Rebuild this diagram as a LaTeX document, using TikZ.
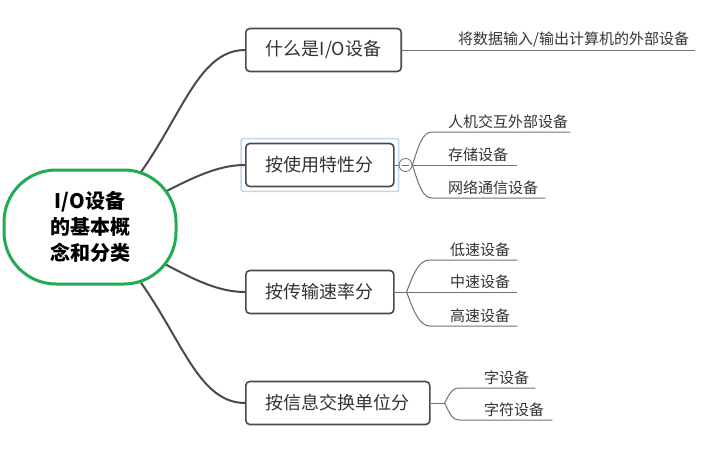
\documentclass[tikz,border=0pt]{standalone}
\usepackage{fontspec}
\setmainfont{Noto Sans CJK SC}
\usetikzlibrary{positioning,fit,backgrounds}
\definecolor{rootgreen}{HTML}{22AA55}
\definecolor{linecol}{HTML}{4A4A4A}
\definecolor{twigcol}{HTML}{707070}
\definecolor{txtcol}{HTML}{333333}
\definecolor{selcol}{HTML}{C2D6EE}

\begin{document}
\begin{tikzpicture}[
  x=1pt, y=-1pt,
  root/.style={draw=rootgreen, line width=3pt, fill=white, rounded corners=52pt,
               minimum width=172pt, minimum height=114pt, align=center,
               font=\fontsize{20}{26}\selectfont\bfseries},
  topic/.style={draw=linecol, line width=1.6pt, rounded corners=4pt, fill=white,
                anchor=west, minimum height=43pt, inner xsep=20pt,
                font=\fontsize{18}{20}\selectfont, text=txtcol},
  leaf/.style={anchor=south west, inner xsep=0pt, inner ysep=3pt, align=left,
               font=\fontsize{15}{17}\selectfont, text=txtcol},
  branch/.style={draw=linecol, line width=2pt},
  twig/.style={draw=twigcol, line width=1pt},
]
\useasboundingbox (0,0) rectangle (716,450);

\node[root] (root) at (90,227) {I/O设备\\的基本概\\念和分类};

\node[topic] (b1) at (245,50) {什么是I/O设备};
\node[topic] (b2) at (245,165) {按使用特性分};
\node[topic] (b3) at (245,292) {按传输速率分};
\node[topic] (b4) at (245,403) {按信息交换单位分};

% collapse knob and forks
\node[draw=twigcol, circle, minimum size=13pt, inner sep=0pt, line width=0.8pt,
      right=4pt of b2] (c2) {};
\draw[twigcol, line width=0.8pt] ([xshift=-3.5pt]c2.center) -- ([xshift=3.5pt]c2.center);
\coordinate[right=12pt of b3] (f3);
\coordinate[right=14pt of b4] (f4);

\node[leaf, text width=237pt] (l11) at (458,50) {将数据输入/输出计算机的外部设备};
\node[leaf, text width=122pt] (l21) at (448,132) {人机交互外部设备};
\node[leaf, text width=69pt] (l22) at (448,165) {存储设备};
\node[leaf, text width=97pt] (l23) at (448,198) {网络通信设备};
\node[leaf, text width=67pt] (l31) at (450,260) {低速设备};
\node[leaf, text width=67pt] (l32) at (450,292) {中速设备};
\node[leaf, text width=67pt] (l33) at (450,326) {高速设备};
\node[leaf, text width=51pt] (l41) at (484,388) {字设备};
\node[leaf, text width=68pt] (l42) at (484,420) {字符设备};

\begin{scope}[on background layer]
  \node[draw=selcol, line width=1.5pt, rounded corners=2pt, fit=(b2), inner sep=4pt] (sel2) {};
  \draw[branch] (root.center) .. controls +(85,-67) and +(-60,0) .. (b1.west);
  \draw[branch] (root.center) .. controls +(70,-27) and +(-45,0) .. (b2.west);
  \draw[branch] (root.center) .. controls +(70,29) and +(-45,0) .. (b3.west);
  \draw[branch] (root.center) .. controls +(85,69) and +(-60,0) .. (b4.west);
\end{scope}

\draw[twig] (b1.east) -- (l11.south east);

\draw[twig] (b2.east) -- (c2.west);
\draw[twig] (c2.east) .. controls +(7,-22) and +(-9,0) .. ([xshift=-16pt]l21.south west) -- (l21.south east);
\draw[twig] (c2.east) -- (l22.south east);
\draw[twig] (c2.east) .. controls +(7,22) and +(-9,0) .. ([xshift=-16pt]l23.south west) -- (l23.south east);

\draw[twig] (b3.east) -- (f3);
\draw[twig] (f3) .. controls +(8,-22) and +(-10,0) .. ([xshift=-20pt]l31.south west) -- (l31.south east);
\draw[twig] (f3) -- (l32.south east);
\draw[twig] (f3) .. controls +(8,22) and +(-10,0) .. ([xshift=-20pt]l33.south west) -- (l33.south east);

\draw[twig] (b4.east) -- (f4);
\draw[twig] (f4) .. controls +(6,-11) and +(-8,0) .. ([xshift=-24pt]l41.south west) -- (l41.south east);
\draw[twig] (f4) .. controls +(6,12) and +(-8,0) .. ([xshift=-24pt]l42.south west) -- (l42.south east);
\end{tikzpicture}
\end{document}
